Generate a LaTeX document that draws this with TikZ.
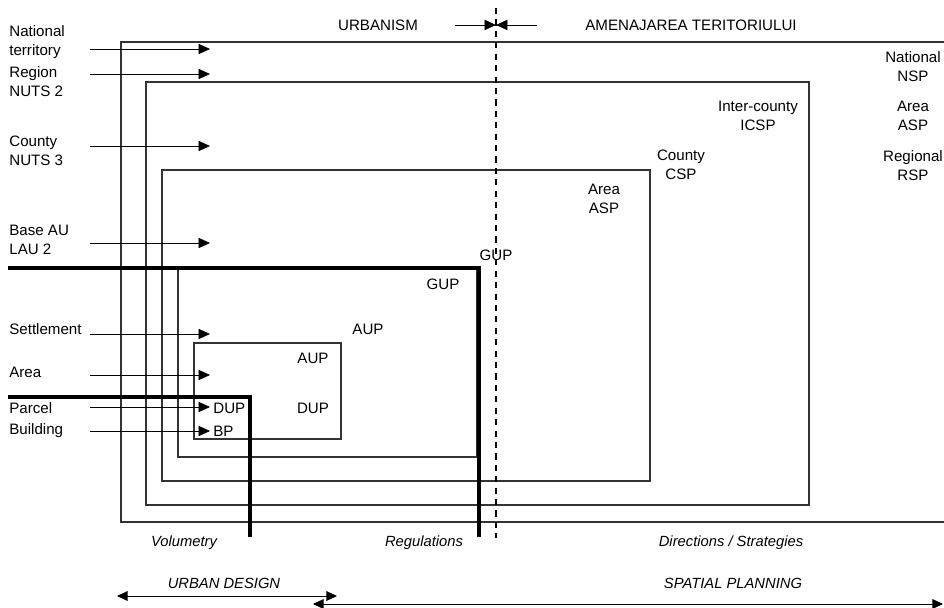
\documentclass[tikz,border=0pt]{standalone}
\usepackage{fontspec}
\setmainfont{Liberation Sans}
\usetikzlibrary{arrows.meta}
\tikzset{
  lbl/.style={font=\fontsize{8.6}{10.8}\selectfont, inner sep=0pt, align=center},
  lvl/.style={lbl, anchor=west, align=left},
  tag/.style={lbl, font=\fontsize{8.4}{10.8}\selectfont\itshape},
  tip/.style={-{Triangle[length=6.5pt,width=5.8pt]}},
  both/.style={{Triangle[length=6pt,width=5.5pt]}-{Triangle[length=6pt,width=5.5pt]}},
  frame/.style={line width=0.6pt, draw=black!80},
  border/.style={line width=2pt},
}
\begin{document}
\begin{tikzpicture}[x=0.02cm, y=-0.02cm]
\useasboundingbox (0,0) rectangle (944,608);
% nested plan areas
\draw[frame] (944,42) -- (121,42) -- (121,522) -- (944,522);
\draw[frame] (146,82) rectangle (809,505);
\draw[frame] (162,170) rectangle (650,481);
\draw[frame] (178,268) rectangle (477,457);
\draw[frame] (194,343) rectangle (341,439);
% thick borders and the divide
\draw[border] (8,268) -- (479,268) -- (479,537);
\draw[border] (8,397) -- (250,397) -- (250,537);
\draw[line width=0.6pt, dash pattern=on 3.5pt off 3pt] (496,8) -- (496,538);
% top headings
\node[lbl] (urb) at (378,25) {URBANISM};
\node[lbl] (amen) at (691,25) {AMENAJAREA TERITORIULUI};
\coordinate (mid) at (496,25);
\coordinate (urbend) at (455,25);
\coordinate (amenend) at (537,25);
\draw[tip] (urbend) -- (mid);
\draw[tip] (amenend) -- (mid);
% levels on the left
\node[lvl] (natl) at (9,42) {National\\territory};
\node[lvl] (reg) at (9,82) {Region\\NUTS 2};
\node[lvl] (cty) at (9,151) {County\\NUTS 3};
\node[lvl] (base) at (9,240) {Base AU\\LAU 2};
\node[lvl] (sett) at (9,329) {Settlement};
\node[lvl] (area) at (9,372) {Area};
\node[lvl] (parc) at (9,408) {Parcel};
\node[lvl] (bldg) at (9,431) {Building};
\foreach \y/\n in {49/a1,74/a2,146/a3,243/a4,334/a5,375/a6,407/a7,431/a8} {
  \coordinate (\n s) at (90,\y);
  \coordinate (\n e) at (210,\y);
  \draw[tip] (\n s) -- (\n e);
}
% plans
\node[lbl] (nsp) at (913,67) {National\\NSP};
\node[lbl] (asp) at (913,116) {Area\\ASP};
\node[lbl] (rsp) at (913,166) {Regional\\RSP};
\node[lbl] (icsp) at (758,116) {Inter-county\\ICSP};
\node[lbl] (csp) at (681,165) {County\\CSP};
\node[lbl] (aasp) at (604,199) {Area\\ASP};
\node[lbl] (gup1) at (496,255) {GUP};
\node[lbl] (gup2) at (443,284) {GUP};
\node[lbl] (aup1) at (368,329) {AUP};
\node[lbl] (aup2) at (313,358) {AUP};
\node[lbl] (dup2) at (313,408) {DUP};
\node[lvl] (dup1) at (213,408) {DUP};
\node[lvl] (bp) at (213,431) {BP};
% bottom
\node[tag] (vol) at (184,543) {Volumetry};
\node[tag] (regl) at (424,543) {Regulations};
\node[tag] (dirs) at (731,543) {Directions / Strategies};
\node[tag] (ud) at (224,583) {URBAN DESIGN};
\node[tag] (sp) at (733,583) {SPATIAL PLANNING};
\coordinate (uds) at (117,596);
\coordinate (ude) at (337,596);
\coordinate (sps) at (313,604);
\coordinate (spe) at (943,604);
\draw[both] (uds) -- (ude);
\draw[both] (sps) -- (spe);
\end{tikzpicture}
\end{document}
